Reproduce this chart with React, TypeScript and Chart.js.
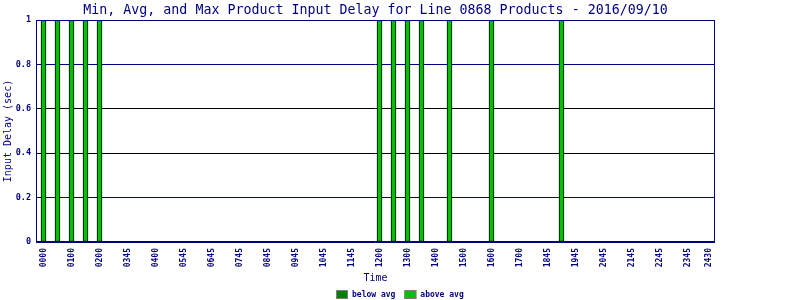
import React, { useEffect, useRef } from "react";
import { Chart, registerables } from "chart.js";

Chart.register(...registerables);

const chartTitle = "Min, Avg, and Max Product Input Delay for Line 0868 Products - 2016/09/10";
const yAxisTitle = "Input Delay (sec)";
const xAxisTitle = "Time";

const seriesNames = ["below avg", "above avg"];
const seriesColors = ["#008000", "#00C000"];

// 48 time slots (index = slot number)
const slots = [
  0, 1, 2, 3, 4, 5, 6, 7, 8, 9, 10, 11,
  12, 13, 14, 15, 16, 17, 18, 19, 20, 21, 22, 23,
  24, 25, 26, 27, 28, 29, 30, 31, 32, 33, 34, 35,
  36, 37, 38, 39, 40, 41, 42, 43, 44, 45, 46, 47,
];

const belowAvg = [
  0, 0, 0, 0, 0, 0, 0, 0, 0, 0, 0, 0,
  0, 0, 0, 0, 0, 0, 0, 0, 0, 0, 0, 0,
  0, 0, 0, 0, 0, 0, 0, 0, 0, 0, 0, 0,
  0, 0, 0, 0, 0, 0, 0, 0, 0, 0, 0, 0,
];

const aboveAvg = [
  1, 1, 1, 1, 1, 0, 0, 0, 0, 0, 0, 0,
  0, 0, 0, 0, 0, 0, 0, 0, 0, 0, 0, 0,
  1, 1, 1, 1, 0, 1, 0, 0, 1, 0, 0, 0,
  0, 1, 0, 0, 0, 0, 0, 0, 0, 0, 0, 0,
];

const tickLabels = [
  "0000", "0100", "0200", "0345", "0400", "0545", "0645", "0745", "0845",
  "0945", "1045", "1145", "1200", "1300", "1400", "1500", "1600", "1700",
  "1845", "1945", "2045", "2145", "2245", "2345", "2430",
];
const tickSlots = [
  0, 2, 4, 6, 8, 10, 12, 14, 16, 18, 20, 22, 24, 26, 28, 30, 32, 34,
  36, 38, 40, 42, 44, 46, 47.5,
];

const yTicks = [0, 0.2, 0.4, 0.6, 0.8, 1];

const NAVY = "#000080";

const decorPlugin = {
  id: "decor",
  beforeDraw(chart: any) {
    const { ctx, width, height } = chart;
    ctx.save();
    ctx.fillStyle = "#ffffff";
    ctx.fillRect(0, 0, width, height);
    ctx.restore();
  },
  afterDraw(chart: any) {
    const { ctx, chartArea, width } = chart;
    const { left, top, right, bottom } = chartArea;
    ctx.save();
    // plot frame
    ctx.strokeStyle = NAVY;
    ctx.lineWidth = 1;
    ctx.strokeRect(left + 0.5, top + 0.5, right - left - 1, bottom - top - 1);

    // title centred over plot area
    ctx.fillStyle = NAVY;
    ctx.font = '13.3px "DejaVu Sans Mono"';
    ctx.textAlign = "center";
    ctx.textBaseline = "alphabetic";
    ctx.fillText(chartTitle, (left + right) / 2, 14);

    // legend centred on canvas
    const datasets = chart.data.datasets;
    ctx.font = 'bold 8px "DejaVu Sans Mono"';
    const boxW = 12;
    const boxH = 9;
    const gapText = 4;
    const gapItem = 9;
    const widths = datasets.map((d: any) => boxW + gapText + ctx.measureText(d.label).width);
    const total = widths.reduce((a: number, b: number) => a + b, 0) + gapItem * (datasets.length - 1);
    let x = Math.round(width / 2 - total / 2);
    const y = 290;
    datasets.forEach((d: any, i: number) => {
      ctx.fillStyle = d.backgroundColor;
      ctx.fillRect(x, y, boxW, boxH);
      ctx.strokeStyle = "#808080";
      ctx.strokeRect(x + 0.5, y + 0.5, boxW - 1, boxH - 1);
      ctx.fillStyle = NAVY;
      ctx.textAlign = "left";
      ctx.textBaseline = "middle";
      ctx.fillText(d.label, x + boxW + gapText, y + boxH / 2 + 0.5);
      x += widths[i] + gapItem;
    });
    ctx.restore();
  },
};

export default function App() {
  const canvasRef = useRef<HTMLCanvasElement | null>(null);

  useEffect(() => {
    if (!canvasRef.current) return;
    const toPoints = (arr: number[]) =>
      slots.map((s, i) => ({ x: s, y: arr[i] === 0 ? null : arr[i] }));

    const chart = new Chart(canvasRef.current, {
      type: "bar",
      data: {
        datasets: [
          {
            label: seriesNames[0],
            data: toPoints(belowAvg) as any,
            backgroundColor: seriesColors[0],
            borderColor: "#000000",
            borderWidth: 1,
            borderSkipped: false,
            barThickness: 5,
          },
          {
            label: seriesNames[1],
            data: toPoints(aboveAvg) as any,
            backgroundColor: seriesColors[1],
            borderColor: "#000000",
            borderWidth: 1,
            borderSkipped: false,
            barThickness: 5,
          },
        ],
      },
      options: {
        animation: false,
        responsive: false,
        maintainAspectRatio: false,
        layout: { padding: { top: 20, right: 85, bottom: 14, left: 0 } },
        plugins: {
          legend: { display: false },
          title: { display: false },
          tooltip: { enabled: false },
        },
        scales: {
          x: {
            type: "linear",
            stacked: true,
            offset: false,
            min: -7.5 / 14,
            max: 671.5 / 14,
            grid: { display: false, drawTicks: false, offset: false },
            border: { display: false },
            afterBuildTicks: (scale: any) => {
              scale.ticks = tickSlots.map((v) => ({ value: v }));
            },
            afterFit: (scale: any) => {
              scale.height = 44;
            },
            ticks: {
              autoSkip: false,
              minRotation: 90,
              maxRotation: 90,
              padding: 6,
              color: NAVY,
              font: { family: "DejaVu Sans Mono", size: 8, weight: "bold" },
              callback: (value: any) => {
                const i = tickSlots.indexOf(Number(value));
                return i >= 0 ? tickLabels[i] : "";
              },
            },
            title: {
              display: true,
              text: xAxisTitle,
              color: NAVY,
              font: { family: "DejaVu Sans Mono", size: 10 },
              padding: { top: 2, bottom: 2 },
            },
          },
          y: {
            stacked: true,
            min: 0,
            max: 1,
            afterBuildTicks: (scale: any) => {
              scale.ticks = yTicks.map((v) => ({ value: v }));
            },
            afterFit: (scale: any) => {
              scale.width = 36;
            },
            grid: {
              drawTicks: false,
              color: (ctx: any) => {
                const v = ctx.tick ? Math.round(ctx.tick.value * 10) / 10 : 0;
                return v === 0.4 || v === 0.6 ? "#000000" : NAVY;
              },
            },
            border: { display: false },
            ticks: {
              padding: 5,
              color: NAVY,
              font: { family: "DejaVu Sans Mono", size: 8.5, weight: "bold" },
              callback: (value: any) => String(Number(Number(value).toFixed(1))),
            },
            title: {
              display: true,
              text: yAxisTitle,
              color: NAVY,
              font: { family: "DejaVu Sans Mono", size: 10 },
              padding: { top: 2, bottom: 0 },
            },
          },
        },
      },
      plugins: [decorPlugin],
    });
    return () => chart.destroy();
  }, []);

  return (
    <div style={{ position: "absolute", left: 0, top: 0, width: 800, height: 300 }}>
      <canvas ref={canvasRef} width={800} height={300} style={{ display: "block" }} />
    </div>
  );
}
